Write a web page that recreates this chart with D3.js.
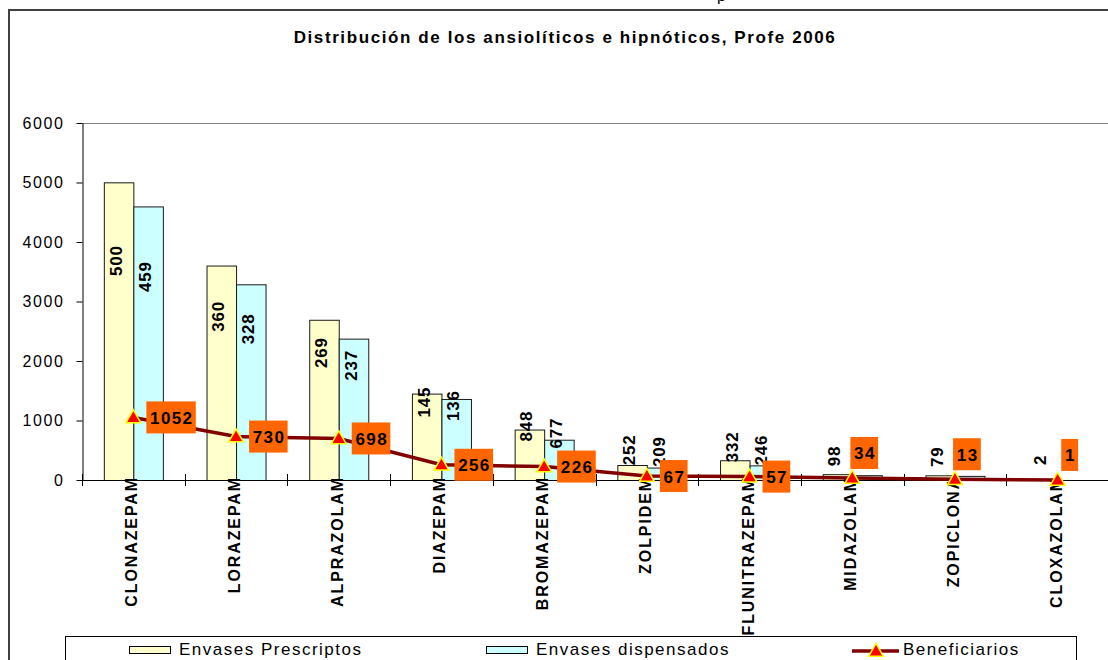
<!DOCTYPE html>
<html>
<head>
<meta charset="utf-8">
<script src="https://cdn.jsdelivr.net/npm/d3@7"></script>
<style>
  body { margin: 0; background: #fff; }
  svg { display: block; font-family: "Liberation Sans", Arial, sans-serif; }
</style>
</head>
<body>
<div id="chart"></div>
<script>
const categories = ['CLONAZEPAM', 'LORAZEPAM', 'ALPRAZOLAM', 'DIAZEPAM', 'BROMAZEPAM',
  'ZOLPIDEM', 'FLUNITRAZEPAM', 'MIDAZOLAM', 'ZOPICLONA', 'CLOXAZOLAM'];
const prescriptos = [5003, 3604, 2693, 1452, 848, 252, 332, 98, 79, 2];
const dispensados = [4598, 3289, 2376, 1362, 677, 209, 246, 81, 69, null];
const beneficiarios = [1052, 730, 698, 256, 226, 67, 57, 34, 13, 1];
const seriesNames = ['Envases Prescriptos', 'Envases dispensados', 'Beneficiarios'];
const yTicks = [0, 1000, 2000, 3000, 4000, 5000, 6000];
const title = 'Distribución de los ansiolíticos e hipnóticos, Profe 2006';

const width = 1108;
const height = 660;
const YELLOW = '#FFFFCC';
const CYAN = '#CCFFFF';
const LINE = '#800000';
const ORANGE = '#FF6600';

const svg = d3.select('#chart')
  .append('svg')
  .attr('width', width)
  .attr('height', height);

// Scales
const x = d3.scaleBand().domain(categories).range([82, 1109]);
const xSub = d3.scaleBand().domain(['p', 'd']).range([0, x.bandwidth()]).paddingOuter(0.74);
const y = d3.scaleLinear().domain([0, 6000]).range([480, 123]);
const cx = (c) => x(c) + x.bandwidth() / 2;

// Chart frame (only top and left edges are inside the picture)
svg.append('path')
  .attr('d', `M9,${height} V10 H${width}`)
  .attr('fill', 'none')
  .attr('stroke', '#404040')
  .attr('stroke-width', 2);

// Stray glyph cut by the top edge
svg.append('text')
  .attr('x', 717)
  .attr('y', 1)
  .attr('font-size', 16)
  .text('p');

// Title
svg.append('text')
  .attr('x', 565)
  .attr('y', 43)
  .attr('text-anchor', 'middle')
  .attr('font-size', 17)
  .attr('font-weight', 'bold')
  .attr('letter-spacing', '1.6px')
  .text(title);

// Top border of plot area
svg.append('line')
  .attr('x1', 82).attr('x2', 1109)
  .attr('y1', y(6000) + 0.5).attr('y2', y(6000) + 0.5)
  .attr('stroke', '#808080');

// Y axis
const yAxis = svg.append('g')
  .attr('transform', 'translate(82.5,0)')
  .call(d3.axisLeft(y).tickValues(yTicks).tickSize(6).tickSizeOuter(0).tickPadding(12).tickFormat(d3.format('d')));
yAxis.select('.domain').attr('stroke', '#000');
yAxis.selectAll('.tick line').attr('stroke', '#000');
yAxis.selectAll('.tick text')
  .attr('font-size', 16)
  .attr('font-family', '"Liberation Sans", Arial, sans-serif')
  .attr('letter-spacing', '1.6px')
  .attr('fill', '#000');

// Bars
const groups = svg.append('g')
  .selectAll('g')
  .data(categories)
  .join('g')
  .attr('transform', (c) => `translate(${x(c)},0)`);

const barData = (c, i) => [
  { key: 'p', value: prescriptos[i], fill: YELLOW },
  { key: 'd', value: dispensados[i], fill: CYAN },
].filter((d) => d.value != null);

groups.selectAll('rect')
  .data(barData)
  .join('rect')
  .attr('x', (d) => xSub(d.key) + 0.5)
  .attr('y', (d) => y(d.value) + 0.5)
  .attr('width', xSub.bandwidth())
  .attr('height', (d) => y(0) - y(d.value))
  .attr('fill', (d) => d.fill)
  .attr('stroke', '#1a1a1a')
  .attr('stroke-width', 1);

// X axis line and tick marks at the band edges
svg.append('line')
  .attr('x1', 82).attr('x2', 1109)
  .attr('y1', y(0) + 0.5).attr('y2', y(0) + 0.5)
  .attr('stroke', '#000');

svg.append('g')
  .selectAll('line')
  .data(categories.map((c) => x(c)).concat(x.range()[1]))
  .join('line')
  .attr('x1', (d) => Math.round(d) + 0.5)
  .attr('x2', (d) => Math.round(d) + 0.5)
  .attr('y1', y(0) - 6)
  .attr('y2', y(0) + 6)
  .attr('stroke', '#000');

// Category labels
svg.append('g')
  .selectAll('text')
  .data(categories)
  .join('text')
  .attr('transform', (c) => `translate(${cx(c) + 4},476) rotate(-90)`)
  .attr('text-anchor', 'end')
  .attr('font-size', 16)
  .attr('font-weight', 'bold')
  .attr('letter-spacing', '1.9px')
  .text((c) => c);

// Bar value labels (the source clips them to three digits)
groups.selectAll('text')
  .data(barData)
  .join('text')
  .attr('transform', (d) => {
    const h = y(0) - y(d.value);
    const cy = y(d.value) + 0.33 * h - 20;
    return `translate(${xSub(d.key) + xSub.bandwidth() / 2 + 3},${cy}) rotate(-90)`;
  })
  .attr('text-anchor', 'middle')
  .attr('font-size', 17)
  .attr('font-weight', 'bold')
  .attr('letter-spacing', '0.8px')
  .text((d) => String(d.value).slice(0, 3));

// Beneficiarios line
const points = categories.map((c, i) => ({ c, v: beneficiarios[i] }));
svg.append('path')
  .datum(points)
  .attr('d', d3.line().x((d) => cx(d.c)).y((d) => y(d.v)))
  .attr('fill', 'none')
  .attr('stroke', LINE)
  .attr('stroke-width', 3.5);

const triangle = d3.symbol(d3.symbolTriangle, 95);
svg.append('g')
  .selectAll('path')
  .data(points)
  .join('path')
  .attr('d', triangle)
  .attr('transform', (d) => `translate(${cx(d.c)},${y(d.v) + 1})`)
  .attr('fill', '#FF0000')
  .attr('stroke', '#FFFF00')
  .attr('stroke-width', 1.5);

// Orange value boxes
const boxes = svg.append('g')
  .selectAll('g')
  .data(points)
  .join('g');

boxes.each(function (d) {
  const g = d3.select(this);
  const lifted = y(d.v) > 477;
  const label = g.append('text')
    .attr('font-size', 17)
    .attr('font-weight', 'bold')
    .attr('letter-spacing', '1.4px')
    .attr('text-anchor', 'middle')
    .attr('dominant-baseline', 'central')
    .text(d.v);
  const w = label.node().getComputedTextLength() + 6;
  const bx = lifted ? cx(d.c) + 12 - w / 2 : cx(d.c) + 13;
  const by = lifted ? y(d.v) - 25 - 16 : y(d.v) - 16;
  g.insert('rect', 'text')
    .attr('x', bx).attr('y', by)
    .attr('width', w).attr('height', 32)
    .attr('fill', ORANGE);
  label.attr('x', bx + w / 2 + 0.7).attr('y', by + 17);
});

// Legend
const legend = svg.append('g');
legend.append('rect')
  .attr('x', 65.5).attr('y', 636.5)
  .attr('width', 1011).attr('height', 40)
  .attr('fill', '#fff')
  .attr('stroke', '#000');

const legendX = [129, 486, 852];
const legendItems = legend.selectAll('g')
  .data(seriesNames)
  .join('g')
  .attr('transform', (d, i) => `translate(${legendX[i]},0)`);

legendItems.filter((d, i) => i < 2)
  .append('rect')
  .attr('x', 0.5).attr('y', 646.5)
  .attr('width', 41).attr('height', 7)
  .attr('fill', (d, i) => (i === 0 ? YELLOW : CYAN))
  .attr('stroke', '#000');

const lastItem = legendItems.filter((d, i) => i === 2);
lastItem.append('line')
  .attr('x1', 0).attr('x2', 47)
  .attr('y1', 651).attr('y2', 651)
  .attr('stroke', LINE)
  .attr('stroke-width', 3.5);
lastItem.append('path')
  .attr('d', triangle)
  .attr('transform', 'translate(24,652)')
  .attr('fill', '#FF0000')
  .attr('stroke', '#FFFF00')
  .attr('stroke-width', 1.5);

legendItems.append('text')
  .attr('x', (d, i) => (i === 2 ? 51 : 50))
  .attr('y', 655)
  .attr('font-size', 17)
  .attr('letter-spacing', '1.5px')
  .text((d) => d);
</script>
</body>
</html>
